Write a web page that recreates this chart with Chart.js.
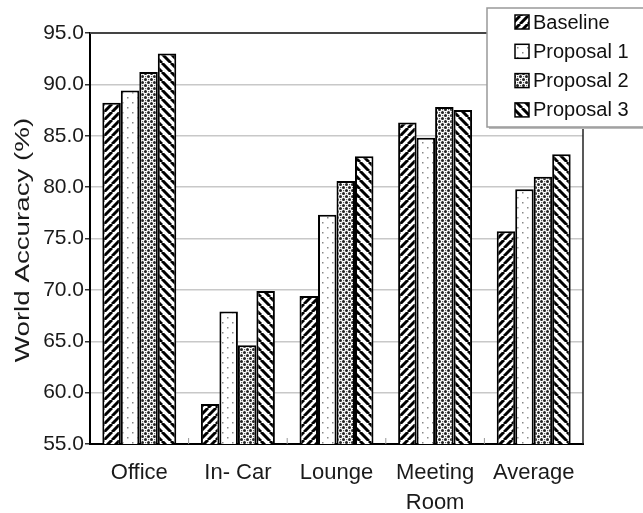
<!DOCTYPE html>
<html>
<head>
<meta charset="utf-8">
<script src="https://cdn.jsdelivr.net/npm/chart.js@4"></script>
<style>
  html, body { margin: 0; padding: 0; background: #fff; }
  #wrap { width: 643px; height: 513px; }
</style>
</head>
<body>
<div id="wrap"><canvas id="grafico" width="643" height="513"></canvas></div>
<script>
// datos
const categorias = ["Office", "In- Car", "Lounge", ["Meeting", "Room"], "Average"];
const baseline = [88.2, 58.9, 69.4, 86.3, 75.7];
const propuesta1 = [89.4, 67.9, 77.3, 84.8, 79.8];
const propuesta2 = [91.2, 64.6, 80.6, 87.8, 81.0];
const propuesta3 = [93.0, 69.9, 83.0, 87.5, 83.2];
const nombres = ["Baseline", "Proposal 1", "Proposal 2", "Proposal 3"];
const ticksY = [55, 60, 65, 70, 75, 80, 85, 90, 95];
const tituloY = "World Accuracy (%)";

const fuente = "'Liberation Sans', Arial, sans-serif";

// patrones de relleno
function tile(s, dibujar) {
  const c = document.createElement("canvas");
  c.width = s; c.height = s;
  const g = c.getContext("2d");
  g.fillStyle = "#fff";
  g.fillRect(0, 0, s, s);
  dibujar(g, s);
  return document.getElementById("grafico").getContext("2d").createPattern(c, "repeat");
}
function rayas(s, w, invertido) {
  return tile(s, (g) => {
    g.strokeStyle = "#000";
    g.lineWidth = w;
    g.beginPath();
    for (const k of [-s, 0, s]) {
      if (invertido) { g.moveTo(k, 0); g.lineTo(k + s, s); }
      else { g.moveTo(k, s); g.lineTo(k + s, 0); }
    }
    g.stroke();
  });
}
const patBase = rayas(8, 3, false);
const patP3 = rayas(9, 3, true);
const patP1 = tile(10, (g) => {
  g.fillStyle = "#888";
  g.fillRect(2, 2, 1.5, 1.5);
  g.fillRect(7, 7, 1.5, 1.5);
});
const patP2 = tile(6, (g) => {
  g.fillStyle = "#222";
  g.beginPath(); g.arc(1.5, 1.5, 1.5, 0, 7); g.fill();
  g.beginPath(); g.arc(4.5, 4.5, 1.5, 0, 7); g.fill();
  g.fillStyle = "#666";
  g.fillRect(4, 1, 1.2, 1.2);
  g.fillRect(1, 4, 1.2, 1.2);
});
const patrones = [patBase, patP1, patP2, patP3];

const series = [baseline, propuesta1, propuesta2, propuesta3].map((d, i) => ({
  label: nombres[i],
  data: d,
  backgroundColor: patrones[i],
  borderColor: "#000",
  borderWidth: 2,
  borderSkipped: "bottom",
  barPercentage: 1,
  categoryPercentage: 0.75,
}));

// marco, titulo y leyenda dibujados a mano
const marco = {
  id: "marco",
  afterDatasetsDraw(chart) {
    const c = chart.ctx, a = chart.chartArea;
    c.save();
    c.strokeStyle = "#444";
    c.lineWidth = 2;
    c.beginPath();
    c.moveTo(a.left, a.top); c.lineTo(a.right, a.top);
    c.stroke();
    c.strokeStyle = "#222";
    c.lineWidth = 1.5;
    c.beginPath();
    c.moveTo(a.right, a.top); c.lineTo(a.right, a.bottom);
    c.stroke();
    // tics pequeños del eje x entre categorias
    const x = chart.scales.x;
    c.strokeStyle = "#999";
    c.lineWidth = 1;
    for (let i = 1; i < categorias.length; i++) {
      const px = (x.getPixelForTick(i - 1) + x.getPixelForTick(i)) / 2;
      c.beginPath(); c.moveTo(px, a.bottom); c.lineTo(px, a.bottom - 6); c.stroke();
    }
    // titulo del eje y (estirado como en la imagen)
    c.save();
    c.translate(23, 240);
    c.rotate(-Math.PI / 2);
    c.scale(1.32, 1);
    c.font = "21px " + fuente;
    c.fillStyle = "#1a1a1a";
    c.textAlign = "center";
    c.textBaseline = "middle";
    c.fillText(tituloY, 0, 0);
    c.restore();
    // leyenda
    const lx = 487, ly = 8, lw = 170, lh = 119;
    c.fillStyle = "#bbb";
    c.fillRect(lx + 2, ly + 2, lw, lh);
    c.fillStyle = "#fff";
    c.fillRect(lx, ly, lw, lh);
    c.strokeStyle = "#999";
    c.lineWidth = 1.5;
    c.strokeRect(lx, ly, lw, lh);
    c.font = "20px " + fuente;
    c.textBaseline = "middle";
    chart.data.datasets.forEach((ds, i) => {
      const y = 22 + i * 29.3;
      c.fillStyle = ds.backgroundColor;
      c.fillRect(515, y - 7, 14, 14);
      c.strokeStyle = "#000";
      c.lineWidth = 1.5;
      c.strokeRect(515, y - 7, 14, 14);
      c.fillStyle = "#111";
      c.fillText(ds.label, 533, y + 1);
    });
    c.restore();
  },
};

const ctx = document.getElementById("grafico").getContext("2d");
new Chart(ctx, {
  type: "bar",
  data: { labels: categorias, datasets: series },
  options: {
    responsive: false,
    animation: false,
    layout: { padding: { left: 0, top: 33, right: 60, bottom: 0 } },
    plugins: { legend: { display: false }, tooltip: { enabled: false } },
    scales: {
      x: {
        afterFit: (s) => { s.height = 69; },
        grid: { display: false },
        border: { color: "#000", width: 2 },
        ticks: {
          color: "#1a1a1a",
          padding: 6,
          maxRotation: 0,
          minRotation: 0,
          autoSkip: false,
          font: { family: fuente, size: 22, lineHeight: 1.36 },
        },
      },
      y: {
        min: 55,
        max: 95,
        afterFit: (s) => { s.width = 90; },
        afterBuildTicks: (s) => { s.ticks = ticksY.map((v) => ({ value: v })); },
        border: { color: "#000", width: 2 },
        grid: { color: "#c8c8c8", lineWidth: 1.5, tickColor: "#333", tickLength: 5 },
        ticks: {
          color: "#1a1a1a",
          padding: 1,
          font: { family: fuente, size: 21 },
          callback: (v) => Number(v).toFixed(1),
        },
      },
    },
  },
  plugins: [marco],
});
</script>
</body>
</html>
